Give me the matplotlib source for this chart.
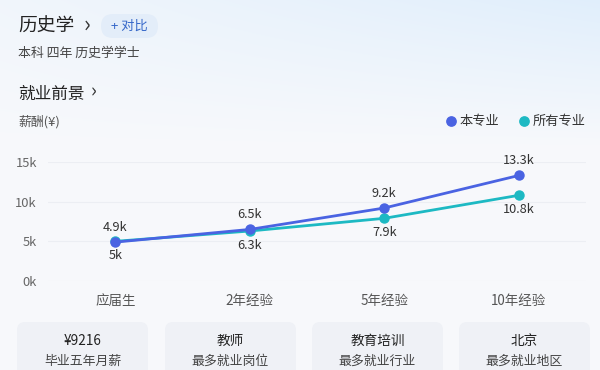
import matplotlib
matplotlib.use("Agg")
import matplotlib.pyplot as plt
import numpy as np
from matplotlib.patches import FancyBboxPatch

plt.rcParams['font.family'] = ['Noto Sans CJK SC', 'DejaVu Sans']

# Data
categories = ["应届生", "2年经验", "5年经验", "10年经验"]
major_salary = [4.9, 6.5, 9.2, 13.3]
all_salary = [5.0, 6.3, 7.9, 10.8]
major_labels = ["4.9k", "6.5k", "9.2k", "13.3k"]
all_labels = ["5k", "6.3k", "7.9k", "10.8k"]
y_ticks = [0, 5, 10, 15]
y_tick_labels = ["0k", "5k", "10k", "15k"]
card_values = ["¥9216", "教师", "教育培训", "北京"]
card_captions = ["毕业五年月薪", "最多就业岗位", "最多就业行业", "最多就业地区"]

blue = "#4A63E2"
teal = "#1DB9C3"

fig = plt.figure(figsize=(6, 3.7), dpi=100)

# Background in pixel coordinates
bg = fig.add_axes([0, 0, 1, 1])
bg.set_xlim(0, 600)
bg.set_ylim(370, 0)
bg.axis("off")
yy, xx = np.mgrid[0:370, 0:600]
t = np.clip(1 - yy / 150.0, 0, 1) * (0.3 + 0.7 * xx / 600.0)
base = np.array([0.972, 0.976, 0.988])
top = np.array([0.88, 0.935, 0.985])
img = base[None, None, :] * (1 - t[..., None]) + top[None, None, :] * t[..., None]
bg.imshow(img, extent=[0, 600, 370, 0], aspect="auto", zorder=0)

# Header
bg.text(18, 26, "历史学", fontsize=13.5, color="#222222", va="center", ha="left")
bg.text(84, 25, "›", fontsize=16, color="#333333", va="center", ha="left")
bg.add_patch(FancyBboxPatch((101, 14), 57, 24, boxstyle="round,pad=0,rounding_size=12",
                            fc="#e3edf9", ec="none", zorder=1))
bg.text(129.5, 26, "+ 对比", fontsize=9.5, color="#3567c9", va="center", ha="center", zorder=2)
bg.text(18, 53, "本科 四年 历史学学士", fontsize=9.3, color="#444444", va="center", ha="left")
bg.text(18, 94, "就业前景", fontsize=12, color="#222222", va="center", ha="left")
bg.text(91, 92, "›", fontsize=14, color="#333333", va="center", ha="left")
bg.text(18, 122, "薪酬(¥)", fontsize=9.3, color="#555555", va="center", ha="left")

# Legend
bg.scatter([451], [121], s=45, color=blue, zorder=3)
bg.text(460, 121, "本专业", fontsize=9.5, color="#333333", va="center", ha="left")
bg.scatter([524], [121], s=45, color=teal, zorder=3)
bg.text(533, 121, "所有专业", fontsize=9.5, color="#333333", va="center", ha="left")

# Cards
card_left = [17, 165, 312, 459]
for i in range(4):
    bg.add_patch(FancyBboxPatch((card_left[i], 322), 131, 60,
                                boxstyle="round,pad=0,rounding_size=8",
                                fc="#eff1f6", ec="none", zorder=1))
    cx = card_left[i] + 65.5
    bg.text(cx, 341, card_values[i], fontsize=9.8, color="#222222", ha="center", va="center", zorder=2)
    bg.text(cx, 361, card_captions[i], fontsize=9.3, color="#444444", ha="center", va="center", zorder=2)

# Chart
ax = fig.add_axes([48 / 600, 89 / 370, 538 / 600, 119 / 370])
ax.patch.set_alpha(0)
x = np.arange(len(categories))
ax.plot(x, all_salary, color=teal, lw=2.0, marker="o", ms=6.5, zorder=3, clip_on=False)
ax.plot(x, major_salary, color=blue, lw=2.0, marker="o", ms=6.5, zorder=4, clip_on=False)

for i in range(len(x)):
    ax.annotate(major_labels[i], (x[i], major_salary[i]), xytext=(0, 10.5), textcoords="offset points",
                ha="center", va="center", fontsize=9.2, color="#333333")
    ax.annotate(all_labels[i], (x[i], all_salary[i]), xytext=(0, -10.5), textcoords="offset points",
                ha="center", va="center", fontsize=9.2, color="#333333")

ax.set_xlim(-0.5, 3.5)
ax.set_ylim(0, 15)
ax.set_xticks(x)
ax.set_xticklabels(categories, fontsize=9.7, color="#555555")
ax.set_yticks(y_ticks)
ax.set_yticklabels(y_tick_labels, fontsize=9.3, color="#666666")
ax.tick_params(axis="both", length=0)
ax.tick_params(axis="x", pad=9)
ax.tick_params(axis="y", pad=8)
for s in ax.spines.values():
    s.set_visible(False)
ax.grid(axis="y", color="#eceef3", lw=0.8)
ax.set_axisbelow(True)

fig.savefig("out.png", dpi=100)
